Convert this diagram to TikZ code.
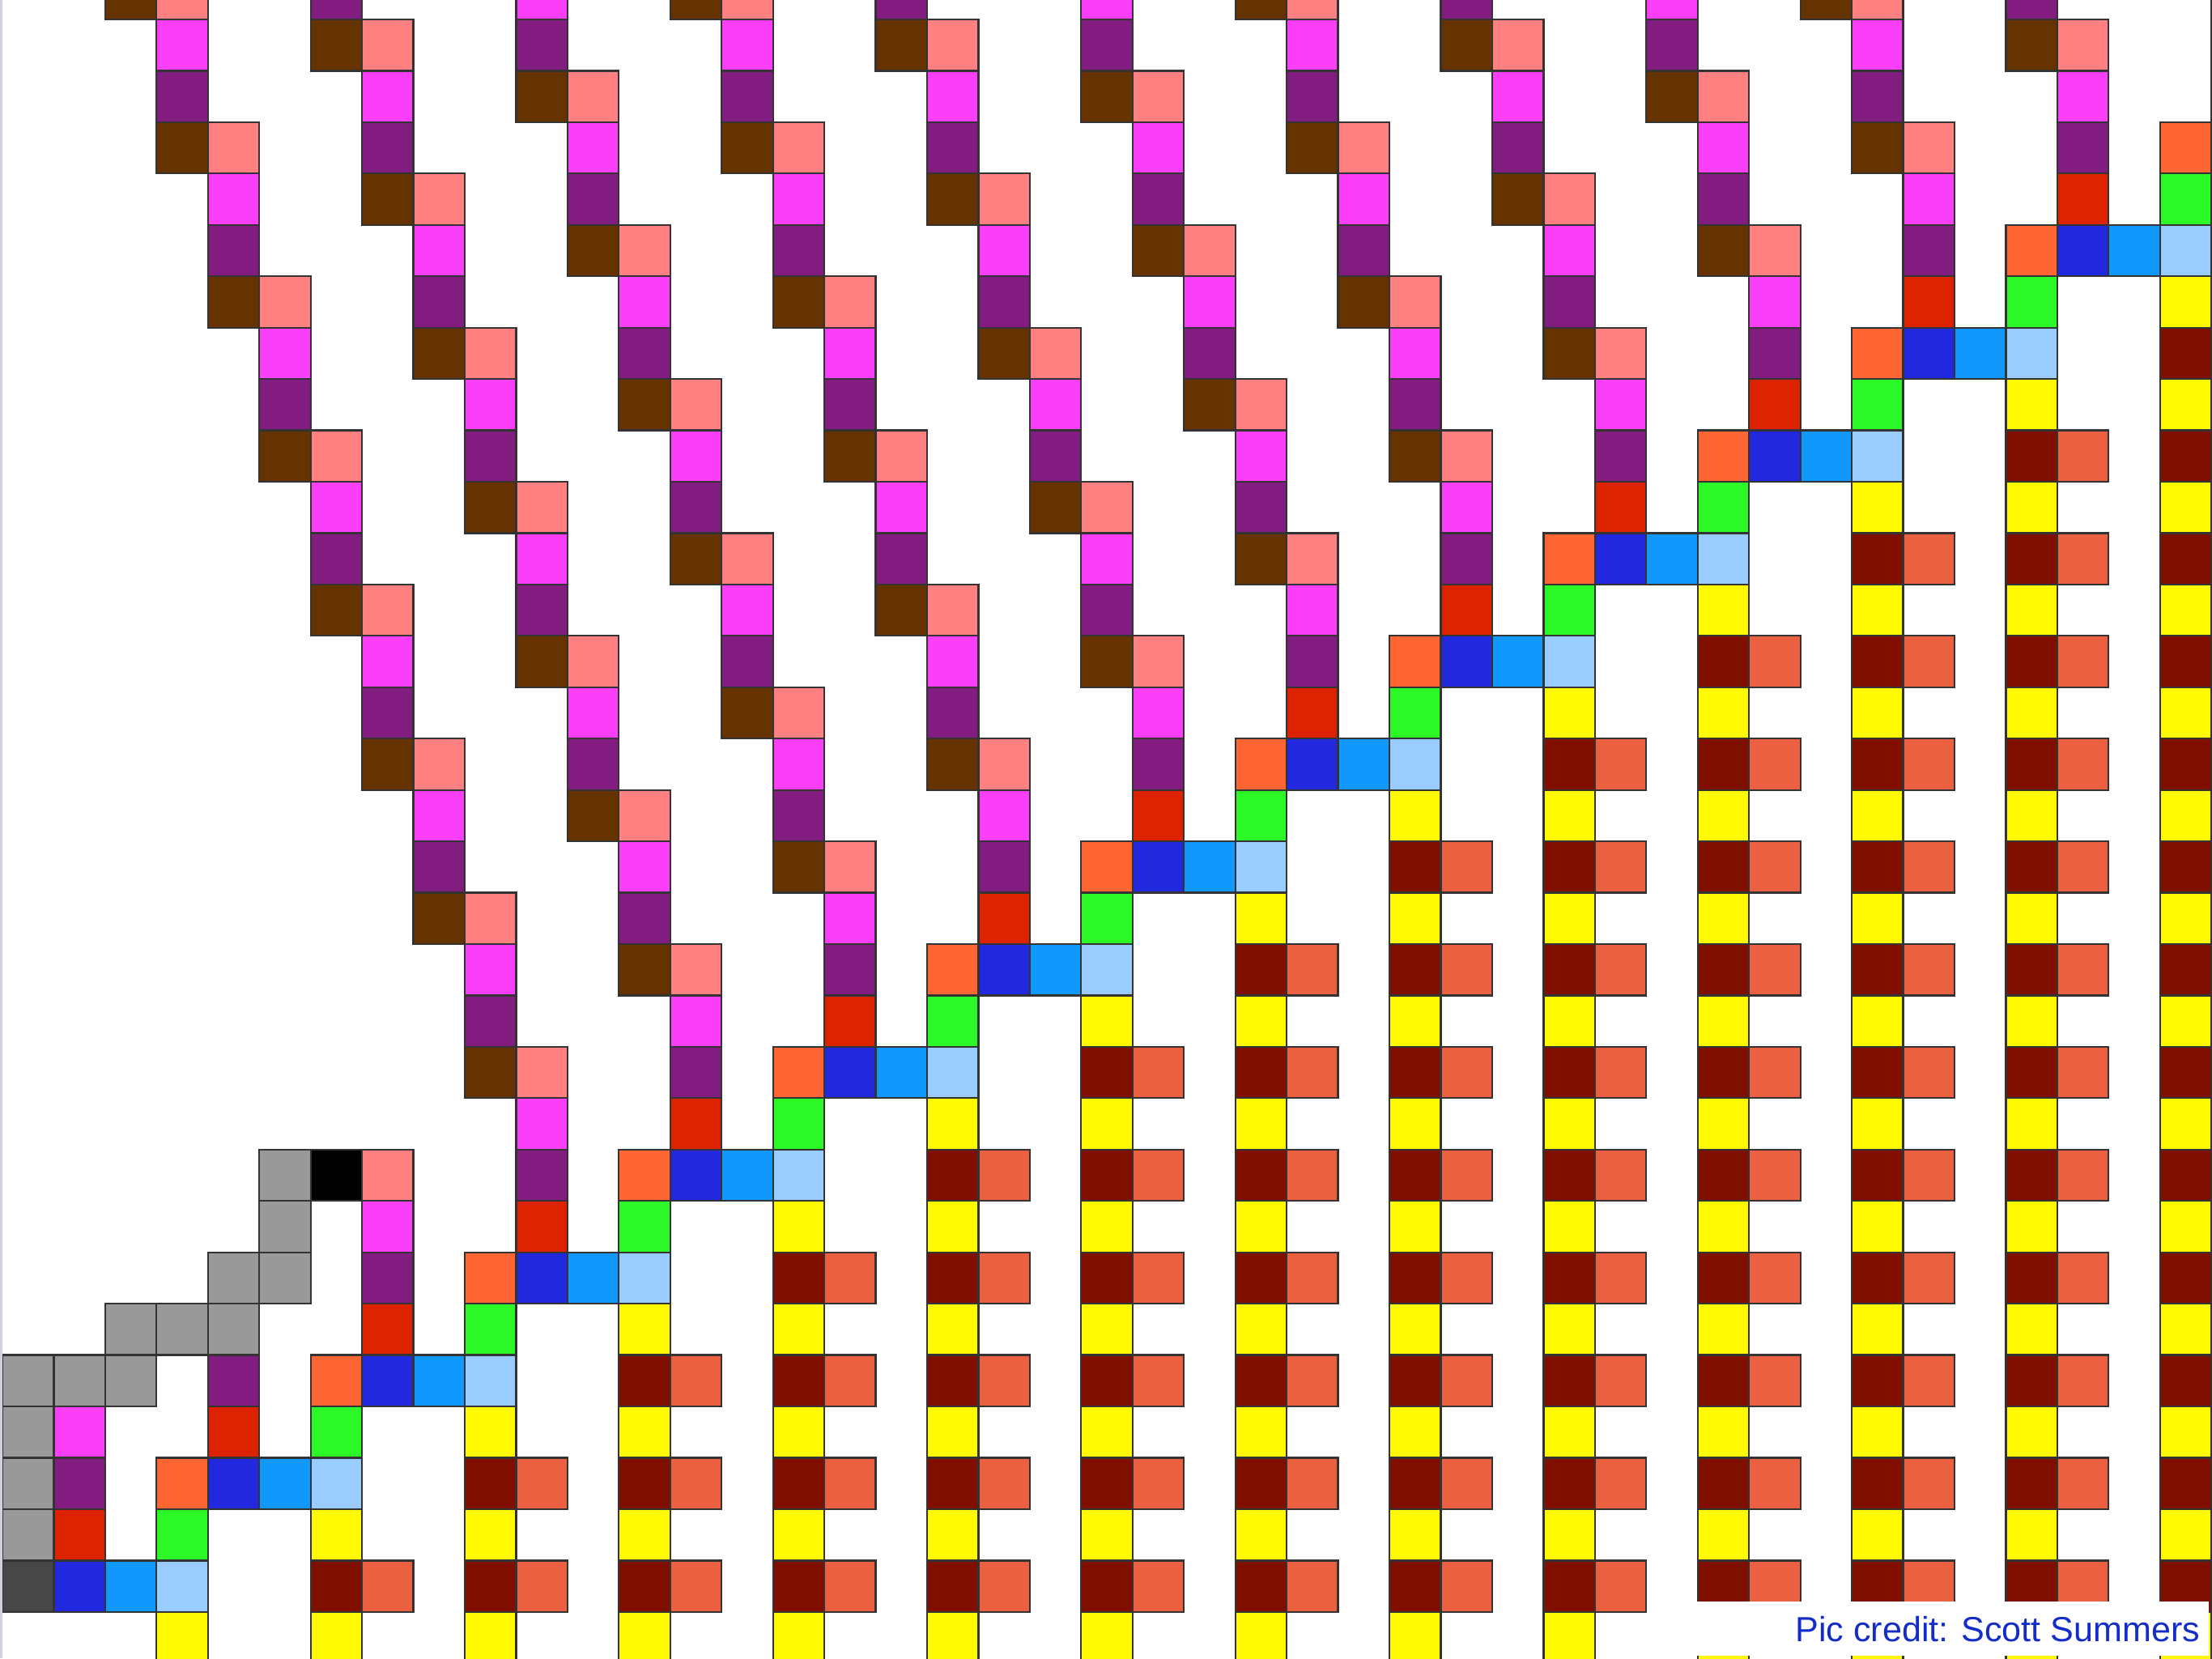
\documentclass[tikz,border=0pt]{standalone}
\usepackage{fontspec}
\newfontfamily\creditfont{Liberation Sans}
\definecolor{cbrown}{RGB}{102,51,0}
\definecolor{csalmon}{RGB}{255,128,128}
\definecolor{cmagenta}{RGB}{250,62,250}
\definecolor{cpurple}{RGB}{130,28,128}
\definecolor{cred}{RGB}{221,34,0}
\definecolor{corange}{RGB}{255,102,51}
\definecolor{cblue}{RGB}{34,40,221}
\definecolor{ccyan}{RGB}{17,152,252}
\definecolor{cpale}{RGB}{153,204,255}
\definecolor{cgreen}{RGB}{44,248,40}
\definecolor{cyellow}{RGB}{255,250,0}
\definecolor{cdarkred}{RGB}{128,15,0}
\definecolor{ctomato}{RGB}{234,96,64}
\definecolor{cgray}{RGB}{153,153,153}
\definecolor{cdarkgray}{RGB}{71,71,71}
\definecolor{creditblue}{RGB}{20,45,200}
\definecolor{edgeline}{RGB}{205,211,222}
\usetikzlibrary{positioning}

\newcommand{\cellat}[3]{\path[cell, fill=#3] (#1,#2) rectangle ++(1,1);}

\begin{document}
\begin{tikzpicture}[
  x=0.6cm, y=-0.6cm,
  cell/.style={draw=black!80, line width=0.6pt},
  credit/.style={font=\creditfont\fontsize{11.6}{14}\selectfont, text=creditblue,
    inner sep=0pt},
]
\useasboundingbox (0,0) rectangle (43.06,32.28);

\begin{scope}
\clip (0,0) rectangle (43.06,32.28);
\begin{scope}[shift={(0.047,0.378)}]
% Staircase, with the yellow columns below each step
\foreach \k in {0,...,15} {
  \pgfmathtruncatemacro{\R}{30-2*\k}
  \pgfmathtruncatemacro{\B}{1+3*\k}
  \cellat{\B-1}{\R}{corange}
  \cellat{\B}{\R}{cblue}
  \cellat{\B+1}{\R}{ccyan}
  \cellat{\B+2}{\R}{cpale}
  \cellat{\B}{\R-1}{cred}
  \cellat{\B+2}{\R-1}{cgreen}
  \cellat{\B}{\R-2}{cpurple}
  \foreach \m in {0,...,16} {
    \cellat{\B+2}{\R+1+2*\m}{cyellow}
    \cellat{\B+2}{\R+2+2*\m}{cdarkred}
    \cellat{\B+3}{\R+2+2*\m}{ctomato}
  }
}

% Diagonal stripes going up-left
\foreach \k in {3,...,15} {
  \pgfmathtruncatemacro{\R}{30-2*\k}
  \pgfmathtruncatemacro{\B}{1+3*\k}
  \cellat{\B}{\R-3}{cmagenta}
  \foreach \j in {0,...,10} {
    \cellat{\B-1-\j}{\R-4-3*\j}{cbrown}
    \cellat{\B-\j}{\R-4-3*\j}{csalmon}
    \cellat{\B-1-\j}{\R-5-3*\j}{cpurple}
    \cellat{\B-1-\j}{\R-6-3*\j}{cmagenta}
  }
}

% Short stripes near the tail
\cellat{1}{27}{cmagenta}
\cellat{7}{23}{cmagenta}
\cellat{7}{22}{csalmon}
\cellat{6}{22}{black}

% Gray tail
\foreach \c/\r in {5/22,5/23,4/24,5/24,2/25,3/25,4/25,0/26,1/26,2/26,0/27,0/28,0/29}
  \cellat{\c}{\r}{cgray};
\cellat{0}{30}{cdarkgray}
\end{scope}
\end{scope}

% Left border line
\fill[edgeline] (0,0) rectangle (0.04,32.28);

% Credit
\fill[white] (33.03,31.17) rectangle (43.0,32.23);
\node[credit, anchor=base east] (credit) at (42.84,31.95) {Pic credit: Scott Summers};
\end{tikzpicture}
\end{document}
